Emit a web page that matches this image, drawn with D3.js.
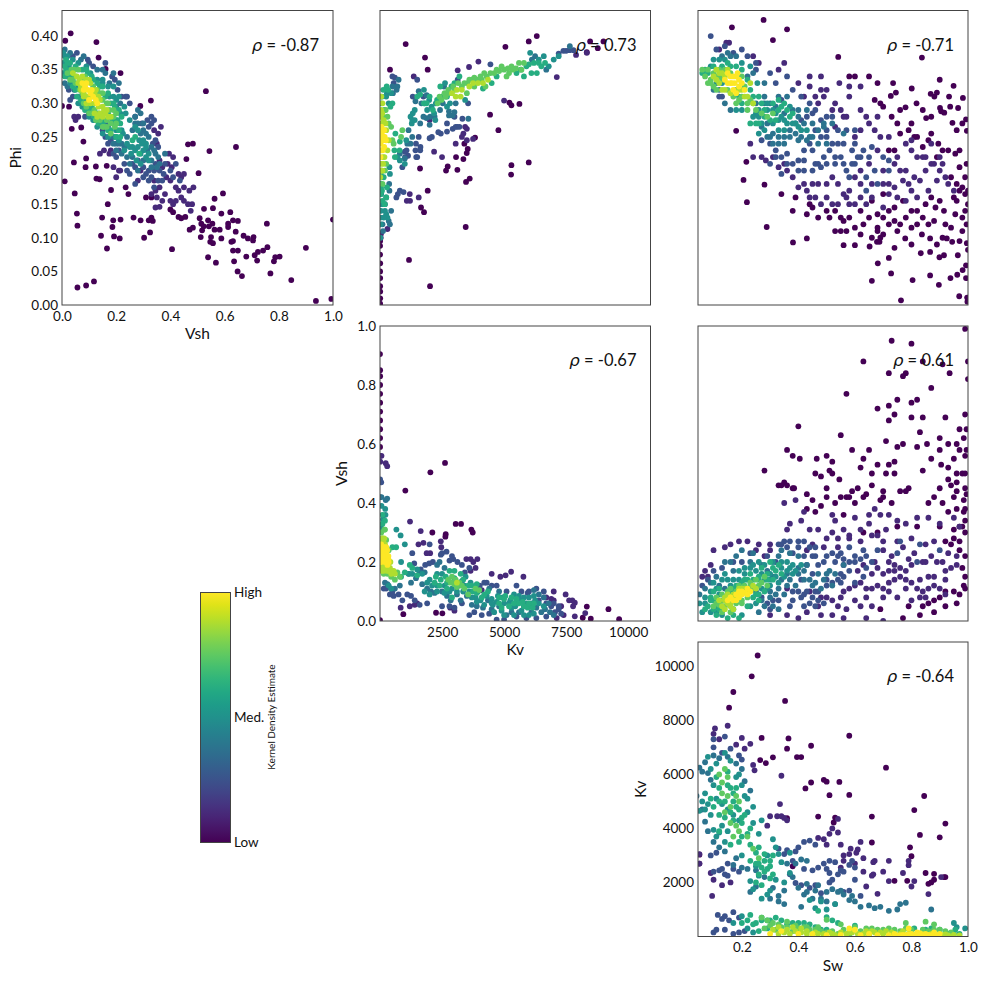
<!DOCTYPE html>
<html>
<head>
<meta charset="utf-8">
<script src="https://cdn.jsdelivr.net/npm/d3@7"></script>
<style>
  body { margin: 0; background: #fff; }
  text { font-family: Lato, "Open Sans", sans-serif; fill: #111; }
</style>
</head>
<body>
<svg id="chart" width="987" height="984"></svg>
<script>
const levels = [0, .12, .25, .38, .5, .62, .75, .88, 1];

const vshPhi = [
  [.032,.404,.012,.393,.127,.391,.135,.368,.161,.351,.216,.345,.531,.318,.328,.304,.289,.296,0,.296,.026,.295,.036,.262,.071,.264,.079,.243,.044,.212,.089,.218,.087,.205,.125,.206,.165,.207,.01,.184,.127,.188,.139,.187,.047,.166,.181,.171,.169,.15,.055,.136,.057,.118,.148,.13,.189,.126,.216,.127,.264,.13,.29,.126,.186,.116,.144,.103,.192,.102,.213,.099,.166,.084,.303,.1,.325,.108,.057,.026,.089,.029,.118,.035,.406,.083,1,.127,.994,.009,.937,.006,.846,.037,.769,.047,.664,.043,.648,.05,.635,.065,.568,.063,.539,.071,.9,.085,.756,.121,.642,.235,.544,.229,.483,.24,.465,.239,.504,.196,.459,.217,.594,.166,.563,.158,.621,.138,.588,.136,.557,.144,.524,.143,.649,.125,.631,.126,.613,.121,.613,.116,.641,.109,.582,.112,.563,.112,.555,.121,.539,.126,.514,.121,.508,.129,.542,.117,.523,.117,.517,.111,.471,.112,.483,.115,.512,.101,.55,.101,.588,.099,.547,.094,.557,.092,.625,.094,.631,.095,.67,.103,.686,.099,.707,.101,.705,.096,.631,.081,.649,.081,.68,.072,.711,.074,.723,.079,.742,.081,.758,.086,.72,.066,.787,.071,.782,.065,.803,.072,.41,.138,.4,.142,.43,.131,.44,.129,.455,.131,.32,.126,.33,.13,.335,.125,.31,.16,.33,.16,.235,.175,.245,.165],
  [.35,.16,.33,.165,.345,.17,.36,.175,.34,.185,.38,.165,.37,.155,.4,.155,.41,.15,.42,.155,.36,.146,.345,.145,.475,.14,.48,.15,.465,.15,.45,.155,.44,.16,.43,.17,.42,.175,.45,.175,.47,.17,.485,.175,.44,.19,.43,.195,.45,.195,.4,.185,.405,.205,.39,.21,.385,.19,.37,.205,.36,.215,.395,.225,.41,.22,.28,.185,.35,.24,.34,.26,.365,.265,.355,.255,.29,.2,.2,.19,.21,.2,.19,.205,.215,.2,.175,.225,.14,.225,.155,.23,.18,.23,.045,.28,.05,.275,.06,.28],
  [.3,.205,.32,.2,.34,.2,.345,.21,.36,.2,.375,.195,.38,.21,.33,.19,.31,.195,.27,.205,.25,.195,.24,.2,.23,.21,.26,.21,.2,.22,.19,.225,.21,.23,.16,.25,.17,.24,.15,.26,.18,.245,.1,.285,.085,.28,.08,.295,.04,.31,.03,.305,.025,.32,.04,.37,.055,.375,.315,.275,.32,.265,.33,.27,.295,.27,.345,.245,.335,.24,.25,.3,.235,.31,.22,.31,.205,.32,.195,.335,.185,.34,.16,.36,.1,.36,.115,.355,.095,.365,.27,.18,.28,.215,.3,.19,.32,.185,.34,.175,.355,.185,.37,.185,.4,.2,.41,.19,.42,.21,.435,.185,.27,.28,.33,.28,.34,.275,.355,.235,.24,.31],
  [.28,.2,.3,.215,.315,.23,.33,.215,.345,.225,.355,.22,.25,.21,.26,.22,.24,.22,.22,.225,.23,.235,.2,.24,.19,.25,.17,.265,.16,.27,.14,.28,.12,.275,.1,.295,.07,.3,.06,.31,.045,.32,.02,.325,.01,.33,.01,.38,.03,.375,.07,.365,.08,.37,.29,.285,.28,.29,.27,.28,.32,.25,.31,.255,.3,.26,.29,.255,.21,.33,.19,.345,.175,.33,.16,.345,.15,.35,.13,.35,.2,.295,.215,.3,.19,.24,.2,.23,.21,.24,.22,.24,.24,.25,.26,.26,.27,.27,.28,.27,.3,.27,.33,.235,.34,.23,.36,.21,.38,.225,.35,.205,.33,.205],
  [.26,.235,.27,.23,.28,.235,.29,.225,.3,.23,.31,.22,.32,.215,.25,.235,.24,.24,.295,.24,.285,.245,.31,.24,.255,.225,.275,.215,.29,.21,.22,.26,.225,.255,.2,.26,.19,.27,.175,.28,.15,.275,.14,.27,.125,.285,.09,.3,.08,.305,.06,.325,.03,.33,.02,.34,.005,.345,.005,.36,.005,.375,.02,.37,.04,.365,.06,.36,.09,.355,.105,.345,.13,.335,.15,.33,.175,.31,.19,.31,.2,.305,.215,.285,.01,.37,.025,.355,.06,.3,.075,.295,.1,.28,.115,.275,.13,.265,.15,.255,.17,.25,.2,.25,.21,.245,.23,.23,.15,.335,.17,.325,.19,.325,.21,.31,.23,.295,.235,.285,.25,.275,.27,.265,.28,.26,.3,.245,.31,.235,.32,.225],
  [.27,.25,.285,.225,.26,.245,.21,.26,.2,.275,.185,.275,.17,.285,.155,.275,.11,.295,.09,.31,.05,.32,.03,.34,.015,.35,.01,.34,.01,.355,.015,.365,.03,.36,.05,.355,.075,.35,.095,.345,.115,.335,.14,.325,.16,.31,.18,.3,.195,.295,.205,.275,.215,.27,.02,.36,.03,.35,.04,.325,.055,.31,.07,.305,.085,.29,.1,.29,.12,.28,.135,.27,.15,.27,.17,.26,.18,.26,.2,.25,.215,.25,.22,.28,.21,.29,.19,.3,.17,.315,.15,.325,.13,.33,.11,.34,.09,.35],
  [.02,.345,.035,.35,.04,.335,.05,.33,.065,.32,.075,.315,.12,.29,.135,.285,.15,.285,.165,.275,.18,.27,.19,.28,.175,.29,.165,.3,.15,.315,.13,.32,.115,.325,.085,.34,.06,.35,.045,.35,.2,.285,.155,.265,.03,.335,.05,.34,.07,.335,.08,.3,.09,.295,.1,.285,.11,.285,.125,.275,.14,.275,.15,.265,.165,.265,.18,.255,.195,.265,.2,.27,.19,.29,.17,.3,.15,.305,.14,.315],
  [.04,.345,.055,.34,.065,.335,.07,.325,.08,.31,.09,.31,.105,.3,.12,.3,.135,.295,.15,.295,.16,.285,.135,.31,.12,.315,.105,.33,.09,.335,.075,.34,.18,.28,.06,.33,.07,.32,.08,.315,.09,.3,.11,.31,.12,.285,.13,.28,.14,.285,.15,.28,.165,.29,.17,.28,.155,.29,.14,.305,.125,.32,.1,.335],
  [.075,.33,.085,.325,.095,.32,.105,.315,.1,.305,.115,.31,.125,.305,.09,.33,.08,.32,.11,.32,.13,.3]
];

const kvPhi = [
  [1035,.388,6317,.4,5994,.392,5053,.384,8467,.392,9005,.392,8776,.382,8333,.376,1814,.368,403,.35,1922,.35,5215,.301,5295,.297,5618,.299,4435,.283,4771,.26,3830,.249,3064,.22,3360,.217,2728,.206,2661,.2,3118,.201,5295,.208,5994,.212,5282,.194,1613,.203,3615,.188,3467,.183,1922,.17,1653,.145,1774,.138,3454,.116,1169,.067,2016,.028,3535,.232,3494,.226,3400,.24,8,.02,8,.01,5,.028,5,.002,8,.04,5,.05,8,.062,3,.075,3,.088,6,.095],
  [7123,.339,3131,.349,3965,.362,3588,.354,5000,.304,3750,.247,3500,.245,3360,.255,3300,.25,3430,.265,3500,.262,3050,.24,2180,.228,1360,.34,2000,.275,8334,.375,7900,.372,1560,.16,1080,.155,1210,.155,1200,.165,40,.106,300,.113,2500,.22,30,.1],
  [4449,.358,3131,.335,1500,.335,3000,.28,3110,.265,2930,.262,3050,.265,3200,.265,3320,.277,2700,.258,2450,.255,2350,.257,2090,.25,2000,.248,1630,.235,1620,.23,1000,.228,1560,.25,1450,.24,1430,.23,1500,.22,1460,.22,1130,.222,1070,.23,1010,.22,7634,.379,7795,.379,7500,.378,7390,.378,7200,.374,500,.34,600,.338,550,.33,900,.205,1320,.31,1750,.31,3550,.3,800,.17,950,.168,720,.165,660,.16,2700,.27],
  [2530,.3,3560,.277,2780,.282,2930,.282,3000,.287,2780,.288,2420,.29,2200,.28,2020,.28,1870,.278,1750,.28,2580,.325,1560,.318,2000,.268,3050,.3,1880,.312,1670,.3,1430,.303,1620,.27,1150,.26,1300,.25,1230,.24,1100,.24,7650,.385,6700,.35,6250,.37,6120,.365,500,.325,700,.325,750,.335,670,.32,520,.315,1000,.218,800,.225,400,.12,350,.125,250,.16,200,.15,120,.11,100,.12,450,.14,380,.17,370,.18],
  [2620,.33,2820,.3,2700,.295,3430,.305,2250,.3,1980,.305,2080,.295,2230,.275,2180,.285,1900,.29,1800,.3,1770,.32,1400,.29,1320,.285,1280,.27,1230,.28,1300,.275,1400,.275,1060,.245,800,.215,700,.22,1000,.21,200,.14,250,.135,300,.13,150,.13,400,.195,380,.205,6800,.355,7000,.365,7200,.37,6400,.365,6600,.37,6050,.375,280,.315,450,.315,250,.31,350,.3,20,.13,40,.14,60,.15,30,.12,50,.165,30,.18,15,.1,35,.15],
  [2880,.325,3000,.33,3200,.34,1620,.313,1500,.31,1770,.3,2130,.29,2300,.305,2000,.31,1880,.3,2500,.31,2700,.31,2650,.31,2430,.325,5500,.345,5670,.35,5900,.355,6000,.358,6200,.36,6400,.36,6500,.355,6650,.36,6320,.345,6100,.345,5800,.34,4700,.34,4500,.33,4150,.322,250,.16,280,.175,150,.19,190,.15,100,.155,620,.255,800,.243,790,.23,580,.23,600,.22,270,.325,330,.32,500,.3,420,.295,20,.165,40,.175,60,.19,30,.195,80,.17,40,.3,80,.31,130,.32,180,.29],
  [2320,.3,2480,.305,2650,.31,2800,.315,3000,.32,3300,.325,3520,.33,3700,.335,3900,.335,4100,.335,4300,.34,4600,.345,4800,.348,5000,.35,5200,.345,5480,.352,5700,.35,5300,.355,5100,.34,4250,.325,3800,.325,3500,.315,900,.26,850,.25,500,.245,550,.24,60,.2,100,.18,200,.2,250,.21,130,.28,230,.29,300,.28,350,.27,450,.265,2400,.31,2600,.315,2750,.32,2950,.325,3150,.33,3400,.33,3600,.335,3800,.338,4050,.34,4200,.345,4450,.345,4700,.35,4900,.355,5150,.352,5350,.35,5600,.36,5800,.36],
  [2900,.315,3100,.32,3300,.32,3250,.31,3050,.31,3600,.325,3750,.33,3950,.33,4150,.33,4350,.335,50,.21,130,.21,180,.22,50,.29,150,.275,80,.27,250,.26,300,.23,220,.27,350,.245,100,.3,50,.31,10,.19,40,.2,70,.2,100,.2,120,.22,30,.28,60,.285,90,.285],
  [20,.22,60,.23,110,.23,170,.235,20,.24,60,.245,130,.245,190,.25,240,.245,20,.25,70,.255,120,.26,170,.26,20,.265,60,.265,130,.25,20,.23]
];

const swPhi = [
  [.277,.424,.165,.413,.36,.41,.31,.394,.541,.369,.837,.368,.9,.335,.949,.326,.982,.308,.801,.322,.89,.316,.868,.314,.881,.31,.933,.31,.745,.316,.727,.311,.818,.3,.779,.294,.901,.293,.905,.288,.937,.295,.965,.293,.993,.276,.916,.286,.852,.278,.945,.271,.996,.259,.18,.259,.216,.213,.206,.186,.28,.179,.218,.153,.288,.116,.381,.093,.43,.099,.56,.089,.6,.089,.652,.087,.681,.062,.66,.036,.728,.047,.804,.037,.866,.044,.897,.03,.938,.04,.962,.045,.763,.007,.969,.013,.998,.005,.997,.011,.993,.04,.981,.052,.993,.059,1,.082,.964,.074,.915,.074,.899,.071,.833,.077,.866,.079,.996,.092,.944,.094,.925,.099,.866,.099,.837,.105,.778,.099,.678,.094,.687,.094,.56,.125,.51,.13,.47,.13,.44,.15,.45,.145,.34,.165,.39,.16,.38,.14,.43,.135,.53,.14,.55,.13,.68,.115,.68,.11,.74,.125,.76,.12,.82,.12,.8,.115,.86,.12,.88,.125,.92,.12,.94,.115,.98,.13,.99,.14,.995,.12,1,.15,1,.17,.99,.165,.97,.17,.95,.16,.96,.155,.995,.21,.99,.19,.97,.205,.98,.175,.955,.135,.9,.155,.915,.14,.885,.145,.84,.13,.8,.14,.77,.155,.74,.145,.72,.14,.68,.135,.66,.155,.7,.165,.97,.23,.955,.225,.93,.23,.91,.23,.895,.24,.89,.22,.87,.255,.82,.25,.79,.26,.76,.255,.74,.23,.72,.23,.69,.3,.67,.305,.7,.295,.75,.27,.8,.27,.86,.245,.84,.235,.58,.34,.6,.34,.65,.34,.68,.33,.735,.33,.63,.12,.6,.115,.65,.13,.58,.13,.62,.14,.7,.13,.72,.12,.66,.1,.7,.105,.75,.11,.78,.13,.82,.14,.85,.15,.87,.16,.98,.11,.97,.095,.91,.1,.89,.09,.8,.09,.74,.085,.72,.07,.69,.1,.62,.105,.57,.11,.55,.11,.53,.11,.5,.14,.96,.18,.94,.19,.96,.26,.98,.27,.87,.28,.84,.29,.81,.25,.76,.29,.73,.28],
  [.5,.32,.44,.34,.48,.34,.44,.325,.545,.33,.48,.32,.58,.325,.62,.325,.53,.3,.55,.29,.62,.29,.64,.28,.67,.26,.69,.25,.72,.25,.75,.22,.78,.2,.8,.245,.82,.22,.85,.2,.87,.24,.9,.2,.92,.19,.95,.17,.93,.18,.86,.17,.89,.185,.82,.16,.8,.17,.78,.155,.75,.16,.72,.165,.7,.145,.66,.16,.62,.16,.6,.19,.58,.15,.56,.165,.54,.15,.5,.16,.47,.18,.45,.18,.43,.17,.38,.19,.36,.2,.33,.205,.31,.22,.27,.22,.24,.22,.23,.24,.285,.215,.35,.21,.88,.21,.84,.22,.6,.25,.57,.28,.53,.265,.49,.31,.46,.31,.42,.31,.4,.33,.35,.36,.33,.35,.26,.36,.24,.37,.12,.38,.145,.39,.155,.39,.62,.2,.65,.21,.68,.23,.7,.2,.74,.21,.76,.2,.77,.185,.79,.18,.81,.19,.83,.185,.85,.22,.87,.21,.9,.22,.91,.21,.72,.18,.74,.175,.7,.18,.66,.18,.62,.18,.58,.17,.54,.18,.52,.19,.5,.18,.46,.16,.44,.16,.4,.175,.42,.18,.48,.15,.52,.15,.6,.15,.64,.15,.57,.16,.78,.24,.8,.23,.68,.28,.65,.27,.62,.26,.58,.31,.56,.28,.52,.29,.47,.3],
  [.11,.38,.09,.4,.14,.385,.17,.375,.2,.38,.22,.37,.25,.36,.25,.35,.12,.31,.13,.31,.32,.33,.3,.345,.36,.34,.34,.305,.38,.32,.41,.31,.44,.3,.46,.29,.5,.28,.45,.285,.5,.26,.54,.26,.6,.24,.62,.22,.65,.22,.66,.235,.7,.22,.72,.2,.67,.2,.64,.19,.6,.21,.58,.19,.56,.21,.53,.22,.5,.21,.48,.205,.45,.2,.42,.2,.4,.2,.38,.21,.36,.225,.34,.22,.32,.23,.3,.24,.27,.245,.45,.23,.42,.23,.52,.24,.48,.25,.6,.26,.56,.24,.72,.215,.64,.17,.68,.18,.41,.275,.43,.28,.46,.26,.48,.275,.5,.25,.52,.28,.54,.24,.57,.26,.59,.23,.61,.22,.63,.23,.47,.21,.49,.22,.51,.23,.53,.21,.55,.22,.57,.2,.59,.21,.44,.24,.46,.21,.42,.215,.4,.215,.36,.21,.34,.195,.32,.22,.3,.21],
  [.13,.37,.15,.375,.16,.37,.18,.37,.22,.34,.24,.345,.1,.32,.12,.32,.14,.3,.16,.29,.25,.3,.28,.3,.29,.27,.31,.255,.3,.25,.33,.24,.35,.24,.37,.25,.4,.245,.44,.25,.47,.24,.5,.24,.39,.27,.42,.27,.45,.27,.49,.265,.52,.27,.4,.29,.43,.29,.36,.31,.33,.31,.38,.29,.56,.255,.28,.33,.27,.265,.29,.25,.31,.24,.33,.25,.35,.25,.37,.26,.39,.255,.41,.25,.43,.245,.45,.25,.47,.26,.49,.27,.28,.31,.3,.3,.32,.295,.35,.285,.4,.28],
  [.1,.365,.12,.365,.14,.365,.2,.36,.23,.355,.255,.33,.2,.29,.18,.29,.26,.28,.29,.29,.32,.285,.34,.28,.36,.27,.38,.27,.35,.26,.33,.26,.31,.27,.41,.26,.43,.26,.4,.265,.28,.26,.26,.255,.09,.355,.11,.33,.13,.33,.29,.3,.31,.29,.33,.275,.35,.275,.37,.295,.39,.27,.27,.27,.25,.285,.24,.28,.26,.29],
  [.08,.345,.07,.35,.06,.345,.1,.355,.13,.355,.15,.36,.16,.355,.18,.355,.2,.35,.22,.335,.23,.32,.24,.31,.26,.31,.27,.3,.28,.28,.3,.275,.32,.275,.34,.295,.36,.29,.38,.285,.35,.3,.37,.28,.33,.29,.25,.27,.28,.29,.31,.3,.33,.305,.2,.3,.19,.31,.23,.27,.26,.27],
  [.07,.34,.08,.33,.09,.335,.1,.345,.11,.32,.125,.34,.14,.35,.16,.345,.2,.34,.21,.325,.23,.305,.24,.3,.25,.29,.27,.285,.29,.28,.31,.285,.12,.35,.1,.325,.22,.29,.18,.3,.06,.35,.08,.35,.09,.33,.11,.34,.13,.335,.15,.32,.17,.31,.19,.305,.2,.31,.22,.3,.18,.32],
  [.1,.34,.11,.35,.12,.345,.13,.345,.14,.34,.15,.35,.11,.335,.12,.33,.13,.32,.14,.32,.16,.315,.19,.32,.21,.31,.22,.31,.2,.32,.23,.33,.24,.3],
  [.15,.345,.16,.34,.17,.34,.18,.34,.19,.335,.185,.345,.2,.33,.175,.33,.165,.33,.19,.325,.21,.32,.16,.33,.14,.335,.15,.33,.17,.32,.18,.315]
];

const kvVsh = [
  [2620,.536,2030,.504,1021,.442,3050,.329,3266,.329,3683,.31,3736,.3,2110,.3,2648,.294,2634,.286,8333,.049,9206,.04,9636,.006,8494,.008,8170,.011,940,.023,2258,.028,2513,.026,0,.905,5,.85,5,.83,5,.8,5,.77,5,.74,5,.71,5,.68,5,.65,5,.62,3,.59,0,.003],
  [1210,.337,3924,.21,5282,.167,5779,.15,833,.045,8270,.027,7850,.062,7750,.07,7620,.07,7850,.016,7480,.09,7780,.05,7000,.1,3650,.21,3480,.21,3760,.2,3850,.18,3650,.17,2020,.23,1880,.23,1750,.265,1550,.26,1640,.305,2450,.27,2470,.25,5,.56,60,.56,230,.535,290,.525,10,.54,4500,.16,4850,.15,5060,.155,7000,.07,6900,.075,6700,.08,7120,.01,7400,.02,7300,.05,4100,.105,3000,.035,2830,.045,1400,.055,1500,.06,1200,.05],
  [5,.48,50,.47,2680,.235,2450,.225,2800,.205,3120,.2,3420,.165,3600,.18,2950,.21,2130,.2,1980,.195,1820,.19,1640,.175,1380,.195,1300,.23,4020,.12,4300,.13,4700,.12,5100,.1,5700,.1,5950,.095,6400,.07,6700,.06,6900,.05,7200,.04,7300,.025,7050,.03,6700,.015,6300,.01,5900,.01,5500,.015,5000,.005,4700,.005,4400,.025,4100,.02,3800,.03,3600,.02,3300,.06,3000,.045,2800,.05,2500,.05,1900,.06,1600,.055,1400,.07,1250,.085,1100,.09,900,.07,750,.09,550,.085,400,.09,150,.11,250,.11,500,.1,4200,.13,4500,.12,5500,.12,6000,.1,6300,.11,6600,.1,7000,.06,7200,.05,2000,.26,2500,.23,2900,.22,3300,.19],
  [5,.42,60,.42,230,.41,290,.415,2600,.18,2400,.2,2300,.19,1800,.165,1600,.165,1450,.145,1250,.13,1700,.125,1900,.11,2050,.1,2200,.095,2500,.1,2700,.085,2850,.07,3100,.09,3250,.07,3500,.085,3700,.055,3900,.05,4150,.045,4350,.07,4500,.04,4800,.05,5100,.02,5300,.03,5600,.03,5800,.05,6100,.03,6300,.045,6500,.03,6650,.04,6850,.03,7000,.02,6800,.06,6600,.08,6400,.09,6200,.105,4400,.11,4800,.1,3300,.135,1150,.16,200,.13,300,.125,600,.11,800,.12],
  [60,.39,210,.38,220,.36,120,.345,50,.315,660,.31,830,.29,1000,.26,850,.2,1170,.16,1300,.16,1500,.175,1700,.16,1900,.13,2100,.12,2300,.12,2600,.12,2900,.11,3100,.1,3350,.1,3600,.1,3850,.08,4050,.07,4300,.085,4500,.075,4700,.065,4950,.08,5200,.06,5450,.05,5650,.07,5900,.06,6100,.06,6250,.07,6000,.02,5700,.035,5300,.045,4900,.035,4550,.055,2000,.14,2300,.16,2500,.16,3450,.15,3650,.13,3950,.1,5400,.09,5600,.085,350,.12,450,.11,1800,.1,2000,.09,2300,.1,2600,.095,2800,.1,3000,.13,3200,.12,3400,.12,3700,.08,3900,.065,4200,.055,4500,.06,4750,.085,5000,.06,5250,.07,5500,.07,5800,.08,6000,.08,6200,.085,6400,.06,6600,.05,4600,.03,5000,.02,5400,.02,5800,.02,6200,.025],
  [100,.36,200,.34,100,.33,500,.25,650,.25,1000,.165,850,.15,1200,.19,1300,.18,1500,.155,2250,.15,2450,.14,2650,.15,2800,.17,3000,.17,3250,.16,3350,.14,3550,.12,3750,.1,3900,.095,4200,.09,4350,.1,4800,.08,5050,.085,5300,.08,5500,.075,5750,.065,5950,.045,6150,.045,2700,.13,3000,.145,2900,.08,4800,.06,5000,.075,5200,.05,5400,.06,5600,.06,5800,.05,6000,.06,6200,.06,4900,.045,2200,.13,2400,.12,2700,.11,3700,.12,3900,.125,4100,.08],
  [50,.3,200,.31,100,.28,250,.275,350,.24,150,.16,300,.16,450,.15,600,.14,700,.165,800,.15,2900,.15,3050,.14,3200,.13,3300,.12,3400,.11,3550,.09,3850,.11,4000,.105,2850,.13,3100,.115,2750,.14,3000,.125,50,.27,180,.31],
  [40,.25,130,.27,200,.26,50,.18,100,.19,200,.18,280,.17,400,.18,600,.16,500,.17,320,.2,420,.2,3100,.13,80,.17,150,.17,230,.18,350,.17,450,.16,550,.17,30,.21,90,.28,170,.28],
  [40,.2,100,.21,170,.22,250,.21,340,.21,40,.23,110,.24,180,.23,260,.23,340,.22,50,.26,120,.25,190,.25,250,.25,80,.225,140,.205,200,.2,300,.19,60,.22,120,.22,200,.24,290,.24,350,.2]
];

const swVsh = [
  [.99,.99,.73,.95,.8,.94,.63,.88,.84,.88,1,.88,.91,.87,.78,.84,.72,.84,.935,.84,.77,.83,.87,.79,1,.82,.57,.77,.75,.75,.82,.75,.8,.74,.72,.73,.68,.72,.72,.68,.74,.7,.8,.69,.84,.69,.92,.69,.99,.7,.985,.62,.93,.6,.83,.64,.82,.59,.855,.6,.75,.59,.71,.61,.74,.54,.77,.6,.9,.62,.96,.6,.95,.55,.99,.56,.93,.52,.905,.53,.98,.5,.96,.5,.99,.45,.985,.41,.95,.42,.94,.46,.9,.45,.88,.42,.86,.4,.79,.45,.76,.44,.78,.44,.74,.5,.71,.5,.68,.53,.65,.58,.63,.55,.59,.44,.545,.48,.66,.5,.62,.52,.55,.63,.59,.58,.5,.56,.465,.55,.4,.66,.405,.55,.51,.51,.46,.5,.48,.49,.5,.45,.38,.56,.36,.58,.36,.46,.38,.45,.35,.47,.43,.43,.61,.45,.55,.42,.57,.42,.28,.51,.33,.46,.34,.46,.385,.45,.52,.5,.52,.54,.58,.42,.64,.43,.7,.44,.7,.42,.96,.44,.985,.37,.99,.34,.97,.32,.9,.32,.82,.32,.75,.32,.68,.3,.63,.3,.99,.3,.95,.28,.92,.27,.97,.27,.97,.09,.99,.11,.95,.1,.9,.08,.88,.07,.86,.06,.84,.05,.79,.05,.92,.05,.96,.06,.88,.03,.77,.01,.83,.02,.69,.04,.94,.26,.97,.24,.99,.22,.98,.18,.99,.15,.985,.12,.92,.1,.98,.32,.95,.31,.93,.37,.91,.4,.96,.38,.99,.38,.995,.43,.99,.5,.995,.58,.995,.65,.97,.58,.97,.65,.84,.51,.87,.55,.9,.58,.93,.48,.96,.47,.72,.53,.66,.46,.73,.4,.69,.41,.6,.4,.63,.42,.56,.36,.53,.4,.5,.42,.48,.39,.46,.37,.43,.38,.45,.41],
  [.39,.41,.35,.4,.42,.37,.37,.33,.41,.34,.36,.31,.52,.36,.53,.34,.6,.35,.67,.38,.65,.36,.69,.36,.72,.36,.75,.34,.78,.33,.82,.35,.86,.35,.9,.33,.95,.35,.97,.32,.88,.27,.85,.26,.93,.23,.96,.22,.91,.2,.85,.2,.79,.21,.7,.27,.75,.27,.8,.28,.66,.29,.62,.27,.58,.29,.54,.25,.49,.25,.45,.26,.43,.24,.3,.26,.3,.24,.26,.26,.25,.24,.28,.22,.22,.27,.19,.27,.16,.26,.14,.25,.1,.24,.09,.19,.07,.17,.06,.15,.08,.15,.56,.19,.61,.17,.63,.19,.67,.2,.72,.2,.74,.19,.78,.17,.83,.14,.88,.15,.94,.18,.92,.14,.86,.11,.78,.11,.72,.1,.7,.08,.66,.05,.6,.07,.57,.04,.52,.02,.47,.05,.48,.02,.43,.03,.36,.02,.3,.02,.4,.01,.56,.01,.64,.01,.7,0,.44,.1,.36,.11,.56,.1,.58,.11,.6,.12,.62,.13,.64,.11,.66,.11,.68,.12,.72,.13,.74,.14,.76,.15,.78,.14,.8,.13,.82,.11,.84,.1,.86,.15,.88,.12,.9,.11,.92,.09,.66,.16,.68,.18,.7,.16,.72,.17,.74,.17,.76,.18,.8,.19,.84,.2,.87,.22,.89,.2,.7,.24,.73,.22,.77,.25,.81,.23,.56,.31,.58,.28,.5,.28,.47,.31,.44,.31,.54,.28,.52,.3,.62,.31,.65,.33,.68,.29,.71,.31,.54,.05,.55,.08,.52,.07,.5,.08,.48,.08,.62,.05,.64,.08,.75,.08,.8,.07,.83,.08,.85,.08,.7,.11,.92,.17,.96,.19],
  [.37,.27,.4,.25,.35,.27,.33,.26,.38,.23,.42,.22,.46,.22,.49,.2,.53,.2,.55,.23,.58,.25,.63,.24,.68,.24,.64,.22,.66,.2,.6,.2,.58,.17,.55,.13,.6,.13,.63,.15,.55,.16,.5,.14,.45,.16,.43,.19,.41,.14,.41,.08,.46,.1,.42,.05,.47,.1,.38,.1,.33,.07,.31,.07,.29,.06,.27,.08,.3,.04,.23,.23,.2,.2,.17,.2,.13,.18,.1,.17,.08,.14,.06,.12,.29,.22,.32,.2,.75,.23,.82,.2,.9,.24,.83,.26,.76,.27,.43,.1,.45,.08,.47,.07,.49,.06,.46,.05,.44,.06,.42,.09,.4,.1,.38,.07,.37,.05,.5,.12,.52,.13,.54,.14,.56,.15,.58,.2,.6,.22,.62,.21,.64,.18,.56,.21,.54,.22,.52,.23,.5,.22,.47,.19,.45,.22,.36,.25,.34,.26,.4,.27,.42,.27,.44,.25,.46,.25],
  [.34,.24,.37,.23,.33,.22,.4,.22,.43,.19,.47,.16,.51,.17,.49,.14,.53,.16,.56,.19,.45,.12,.48,.11,.37,.14,.36,.12,.39,.12,.33,.11,.3,.1,.28,.05,.26,.03,.42,.14,.4,.16,.23,.2,.27,.19,.11,.15,.12,.12,.14,.11,.17,.17,.29,.17,.31,.15,.25,.1,.27,.07,.3,.08,.32,.09,.34,.14,.36,.16,.4,.18,.42,.17,.44,.14,.46,.13,.5,.16,.52,.12,.2,.24,.24,.23,.18,.22,.16,.2,.14,.2,.33,.04,.35,.09,.31,.05,.09,.13,.07,.11,.05,.09],
  [.31,.2,.34,.2,.37,.18,.39,.17,.36,.2,.41,.19,.38,.16,.3,.16,.28,.14,.24,.19,.21,.18,.19,.17,.17,.14,.15,.14,.13,.14,.12,.09,.09,.1,.07,.08,.11,.05,.13,.02,.17,.04,.2,.02,.23,.05,.25,.06,.27,.11,.29,.11,.3,.12,.33,.13,.35,.15,.16,.12,.14,.16,.19,.14,.21,.16,.23,.18,.25,.17,.27,.16,.3,.14,.32,.15,.36,.17,.38,.19,.34,.18,.28,.19,.26,.2,.1,.13,.11,.11,.07,.06,.05,.06,.06,.03,.09,.03,.11,.03],
  [.21,.14,.23,.16,.26,.15,.29,.14,.31,.14,.27,.18,.3,.2,.33,.19,.32,.17,.34,.16,.22,.05,.24,.08,.25,.09,.09,.08,.08,.05,.1,.07,.11,.02,.13,.05,.15,.01,.17,.02,.19,.01,.26,.09,.12,.11,.1,.1,.09,.07,.07,.04,.1,.04,.12,.04,.16,.1,.18,.12,.2,.13,.22,.14,.24,.14,.26,.14,.29,.16,.31,.18,.28,.1,.26,.07,.17,.11],
  [.21,.12,.23,.13,.25,.14,.27,.13,.29,.12,.28,.15,.26,.12,.24,.11,.2,.07,.18,.06,.22,.08,.11,.06,.13,.07,.16,.03,.13,.03,.13,.09,.11,.08,.1,.05,.12,.055,.15,.1,.16,.11,.19,.12,.21,.1,.23,.115,.18,.1,.2,.06,.14,.05],
  [.18,.08,.2,.11,.22,.1,.24,.12,.16,.05,.14,.04,.14,.07,.15,.09,.13,.05,.25,.11,.17,.04,.14,.08,.15,.06,.16,.06,.17,.09,.19,.11,.21,.11,.12,.07],
  [.17,.07,.18,.09,.19,.1,.2,.09,.21,.095,.22,.11,.16,.08,.15,.07,.18,.07,.19,.08,.2,.1,.23,.1,.22,.09]
];

const swKv = [
  [.256,10400,.235,9630,.17,9050,.155,8470,.353,8720,.58,7430,.71,6250,.365,7330,.445,7060,.36,6950,.395,6640,.41,6640,.31,6630,.265,6530,.285,6420,.27,7350,.425,5480,.445,5700,.49,5800,.5,5730,.545,5720,.58,5240,.51,5230,.845,5200,.81,4680,.92,4180,.9,3670,.83,3760,.66,3480,.915,2200,.47,4440,.53,4400,.525,4220,.66,4440,.36,4380,.795,3300,.8,2970,.785,2060,.38,2600,.74,2060,.85,2350,.88,2320,.92,2200,.88,2100,.87,2000,.86,1950,.05,3030,.05,2700],
  [.095,1500,.09,2350,.1,2100,.13,1900,.16,2000,.05,2700,.05,3050,.905,2200,.86,1570,.81,2050,.8,1850,.77,2350,.72,2050,.72,2800,.7,2400,.66,2250,.63,2400,.64,1850,.665,2300,.68,1580,.67,2800,.665,2750,.79,2800,.79,2640,.62,3500,.61,3220,.605,3100,.63,2900,.585,3250,.58,3050,.56,3000,.55,3400,.56,2800,.6,2700,.55,2550,.3,4450,.335,4900,.325,4450,.34,4450,.35,4390,.36,4300,.29,4100,.1,7500,.105,7700,.12,7300,.15,7800,.2,7350,.23,7130,.18,7100,.21,6950,.24,6350,.245,6150,.34,5950,.54,4350,.52,4000,.51,3800,.54,3850,.5,3400,.47,3650,.49,3600],
  [.1,7300,.1,7000,.13,6800,.16,6950,.19,6700,.14,7400,.11,3100,.13,2500,.14,2300,.15,2700,.17,2500,.19,2400,.1,2400,.12,2450,.15,2250,.42,2500,.45,2450,.47,2550,.5,2500,.51,2350,.55,2450,.56,2400,.58,2650,.59,2800,.6,2550,.53,2750,.51,2800,.49,2700,.42,3500,.44,3550,.46,3400,.4,3300,.39,3150,.38,2800,.36,3200,.33,3250,.35,3050,.37,2300,.39,1980,.41,1900,.44,1800,.46,1900,.48,1600,.51,2000,.52,2100,.54,2300,.6,2100,.62,1500,.58,1700,.56,1650,.115,800,.13,650,.14,750,.17,900,.19,700,.1,150,.11,250,.14,250,.17,100,.19,150,.21,200,.09,3000,.155,600,.2,6550],
  [.06,6100,.03,6150,.02,5500,.04,5200,.05,6250,.07,6450,.08,6050,.09,5800,.1,6700,.12,6600,.15,6650,.18,6400,.2,6200,.21,5750,.23,5400,.06,4700,.07,4250,.08,3900,.1,3500,.12,3300,.14,3150,.18,2900,.17,2650,.2,2550,.22,2500,.25,2450,.28,2200,.25,1850,.23,1650,.3,1400,.33,1500,.35,1200,.42,1550,.45,1400,.4,1800,.43,1950,.47,1900,.5,1650,.53,1200,.55,1700,.59,1500,.65,1150,.67,1050,.69,1100,.72,950,.75,1000,.76,1200,.78,1250,.87,1000,.41,1100,.43,1650,.46,1700,.48,1400,.5,1300,.52,1750,.54,1650,.56,1550,.58,1350,.6,1300,.62,1100,.33,1300,.31,1800,.35,1700,.36,2700,.38,2200,.39,2700,.41,2850,.43,2800],
  [.05,4650,.06,5000,.07,5300,.08,6650,.09,6200,.11,6400,.14,6800,.16,6500,.18,5900,.2,5600,.22,5100,.24,4800,.24,4200,.26,3800,.27,4300,.1,3950,.12,3850,.14,3500,.2,3000,.25,2600,.26,2250,.23,2050,.24,1750,.27,1400,.29,1550,.3,1700,.32,2100,.35,2000,.37,2350,.34,2750,.33,3050,.37,3100,.29,3000,.31,3600,.32,3300,.44,1350,.46,1050,.48,1300,.5,1000,.53,1200,.17,500,.2,750,.22,300,.24,150,.96,350,.99,300,.95,500,.1,5600,.11,5100,.13,4900,.15,4700,.17,4500,.19,4300,.13,4100,.15,3900,.11,3700,.09,4500,.08,4900,.07,4700,.19,6000,.21,5200,.22,4600],
  [.09,5100,.11,5900,.12,5500,.1,4800,.12,4500,.14,4400,.17,5300,.19,4700,.21,4500,.23,4000,.12,3900,.16,3400,.2,3700,.22,3800,.26,3300,.28,3050,.3,2800,.29,2500,.26,2300,.3,2150,.25,2700,.23,2800,.31,3000,.23,800,.25,500,.27,700,.29,600,.47,950,.5,720,.52,600,.54,500,.955,250,.97,100,.15,5600,.16,5500,.17,5000,.18,4800,.2,4400,.2,4200,.14,5000,.12,5000,.15,6100,.18,5500,.16,4600,.17,4300,.19,3500,.23,3400,.25,3100,.28,2800,.3,2600,.27,2550,.26,2700,.28,2400,.31,2300,.25,2000,.27,1900,.2,500,.22,600,.24,450,.27,600,.29,300,.26,200,.3,600,.32,700,.34,600,.36,450,.38,500,.4,500,.42,500,.44,450,.46,350,.48,250,.5,250,.6,400,.95,100,.93,100,.9,250,.87,300,.85,250,.81,300],
  [.12,6000,.13,5700,.14,6200,.15,5900,.13,5300,.15,5200,.16,4800,.18,5200,.19,5000,.14,4600,.16,4200,.17,3700,.18,4100,.19,3900,.22,3700,.24,3250,.26,2900,.27,700,.29,600,.31,500,.28,300,.33,450,.36,550,.39,400,.43,350,.47,350,.55,450,.5,620,.78,500,.85,550,.88,450,.3,400,.32,250,.34,350,.36,350,.38,200,.4,300,.42,350,.44,250,.46,250,.48,200,.5,150,.52,200,.54,100,.56,250,.58,50,.6,350,.62,200,.64,300,.66,300,.68,250,.7,250,.72,300,.74,250,.76,200,.78,300,.8,250,.82,50,.84,250,.86,200,.88,250,.9,250,.92,200,.94,150],
  [.31,250,.33,350,.36,250,.38,350,.41,300,.43,200,.46,150,.49,100,.52,100,.55,150,.58,150,.61,100,.64,200,.67,150,.7,100,.73,150,.76,100,.92,80,.95,60,.97,40,.33,100,.35,150,.37,100,.39,200,.41,150,.43,100,.45,50,.47,100,.49,50,.51,150,.53,50,.57,100,.59,150,.63,100,.65,50,.66,200,.69,150,.71,200,.74,50,.77,200,.79,100,.87,100,.89,50,.91,50,.93,40],
  [.3,100,.34,200,.4,100,.45,100,.5,50,.55,60,.58,300,.6,250,.62,50,.65,100,.68,50,.72,50,.75,30,.78,50,.8,100,.82,150,.84,80,.86,60,.88,150,.9,100,.79,300,.85,50,.81,40,.83,60,.74,100,.76,50,.79,80,.81,60,.83,120,.85,100,.87,50,.82,60,.84,40,.8,30,.77,60,.89,30]
];

const phiTicks = [0, .05, .1, .15, .2, .25, .3, .35, .4];
const fracTicks = [0, .2, .4, .6, .8, 1];
const swTicks = [.2, .4, .6, .8, 1];
const kvXTicks = [2500, 5000, 7500, 10000];
const kvYTicks = [2000, 4000, 6000, 8000, 10000];
const rhoValues = ["-0.87", "0.73", "-0.71", "-0.67", "0.61", "-0.64"];

const phiDomain = [0, .438];
const fracDomain = [0, 1];
const kvDomain = [0, 10900];
const swDomain = [.045, 1];

const svg = d3.select("#chart");
const viridis = d3.interpolateViridis;

// one panel: box is left, right, top, bottom of the axes in page pixels
function panel(i, box, bands, xDomain, yDomain, opts) {
  const x = d3.scaleLinear().domain(xDomain).range([box[0], box[1]]);
  const y = d3.scaleLinear().domain(yDomain).range([box[3], box[2]]);
  const g = svg.append("g");

  svg.append("clipPath").attr("id", `clip${i}`).append("rect")
    .attr("x", box[0]).attr("y", box[2])
    .attr("width", box[1] - box[0]).attr("height", box[3] - box[2]);

  const pts = [];
  bands.forEach((band, b) => {
    for (let k = 0; k + 1 < band.length; k += 2) pts.push({ x: band[k], y: band[k + 1], d: levels[b] });
  });

  g.append("g").attr("clip-path", `url(#clip${i})`)
    .selectAll("circle").data(pts).join("circle")
    .attr("cx", d => x(d.x))
    .attr("cy", d => y(d.y))
    .attr("r", 2.9)
    .attr("fill", d => viridis(d.d));

  g.append("rect")
    .attr("x", box[0]).attr("y", box[2])
    .attr("width", box[1] - box[0]).attr("height", box[3] - box[2])
    .attr("fill", "none").attr("stroke", "#444").attr("stroke-width", 1);

  if (opts.xTicks) {
    const ax = g.append("g").attr("transform", `translate(0,${box[3]})`)
      .call(d3.axisBottom(x).tickValues(opts.xTicks).tickFormat(opts.xFormat).tickSize(0).tickPadding(6));
    ax.select(".domain").remove();
    ax.selectAll("text").attr("font-size", 13.5).style("font-family", "Lato");
    g.append("text").attr("x", (box[0] + box[1]) / 2).attr("y", box[3] + 34)
      .attr("text-anchor", "middle").attr("font-size", 15.5).text(opts.xLabel);
  }
  if (opts.yTicks) {
    const ay = g.append("g").attr("transform", `translate(${box[0]},0)`)
      .call(d3.axisLeft(y).tickValues(opts.yTicks).tickFormat(opts.yFormat).tickSize(0).tickPadding(4));
    ay.select(".domain").remove();
    ay.selectAll("text").attr("font-size", 13.5).style("font-family", "Lato");
    g.append("text")
      .attr("transform", `translate(${opts.yLabelX},${(box[2] + box[3]) / 2}) rotate(-90)`)
      .attr("text-anchor", "middle").attr("font-size", 15.5).text(opts.yLabel);
  }

  const rho = g.append("text").attr("x", box[1] - 14).attr("y", box[2] + 40)
    .attr("text-anchor", "end").attr("font-size", 16.5);
  rho.append("tspan").style("font-family", "DejaVu Sans").attr("font-style", "italic").text("ρ");
  rho.append("tspan").text(" = " + rhoValues[i]);
}

const xA = [62, 333], xB = [380, 650.5], xC = [698, 968];
const yA = [10.5, 305], yB = [326, 621], yC = [642, 936.5];

panel(0, [...xA, ...yA], vshPhi, fracDomain, phiDomain, {
  xTicks: fracTicks, xFormat: d3.format(".1f"), xLabel: "Vsh",
  yTicks: phiTicks, yFormat: d3.format(".2f"), yLabel: "Phi", yLabelX: 21
});
panel(1, [...xB, ...yA], kvPhi, kvDomain, phiDomain, {});
panel(2, [...xC, ...yA], swPhi, swDomain, phiDomain, {});
panel(3, [...xB, ...yB], kvVsh, kvDomain, fracDomain, {
  xTicks: kvXTicks, xFormat: d3.format("d"), xLabel: "Kv",
  yTicks: fracTicks, yFormat: d3.format(".1f"), yLabel: "Vsh", yLabelX: 347
});
panel(4, [...xC, ...yB], swVsh, swDomain, fracDomain, {});
panel(5, [...xC, ...yC], swKv, swDomain, kvDomain, {
  xTicks: swTicks, xFormat: d3.format(".1f"), xLabel: "Sw",
  yTicks: kvYTicks, yFormat: d3.format("d"), yLabel: "Kv", yLabelX: 646
});

// colour bar
const gradient = svg.append("defs").append("linearGradient")
  .attr("id", "kde").attr("x1", 0).attr("x2", 0).attr("y1", 1).attr("y2", 0);
gradient.selectAll("stop").data(d3.range(0, 1.01, .05)).join("stop")
  .attr("offset", d => d).attr("stop-color", d => viridis(d));

svg.append("rect").attr("x", 200.5).attr("y", 592.5).attr("width", 30).attr("height", 250)
  .attr("fill", "url(#kde)").attr("stroke", "#444").attr("stroke-width", 1);

const barScale = d3.scaleLinear().domain([0, 1]).range([842, 592]);
svg.selectAll(".barlabel").data([[0, "Low"], [.5, "Med."], [1, "High"]]).join("text")
  .attr("class", "barlabel")
  .attr("x", 234).attr("y", d => barScale(d[0]) + 5)
  .attr("font-size", 13.5).text(d => d[1]);

svg.append("text").attr("transform", "translate(275,717) rotate(-90)")
  .attr("text-anchor", "middle").attr("font-size", 10).text("Kernel Density Estimate");
</script>
</body>
</html>
